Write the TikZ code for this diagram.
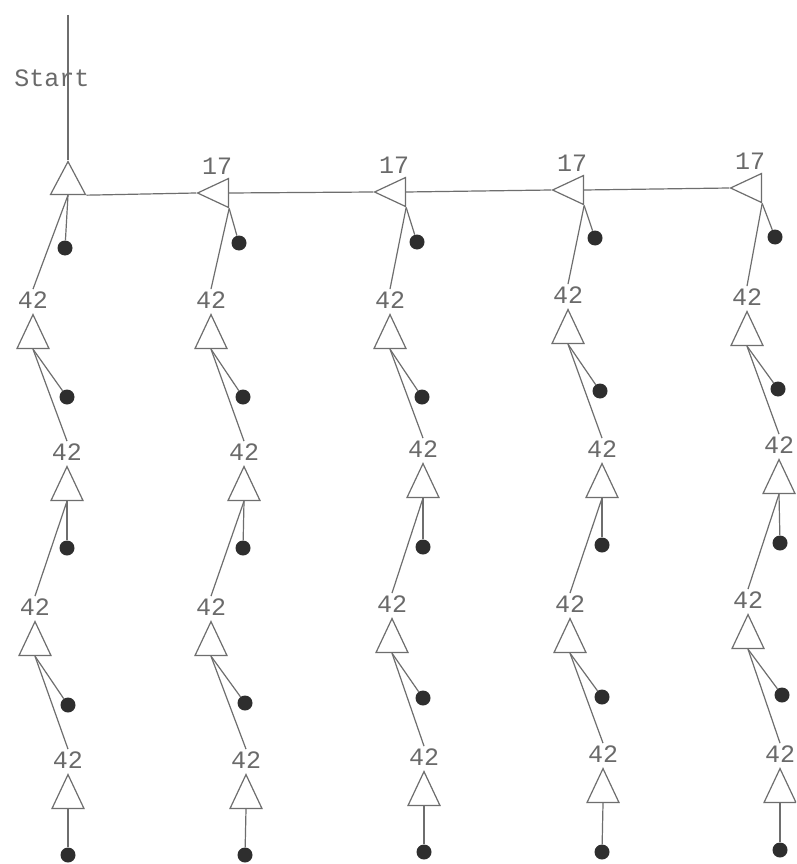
\documentclass[tikz,border=0pt]{standalone}
\usepackage{fontspec}
\newfontfamily\lblfont{Liberation Mono}
\usetikzlibrary{shapes.geometric}
\definecolor{ln}{HTML}{6E6E6E}
\definecolor{tx}{HTML}{6A6A6A}
\definecolor{dk}{HTML}{2E2E2E}
\tikzset{
  edge/.style={draw=ln, line width=1.2pt},
  tri/.style={isosceles triangle, draw=ln, line width=1.2pt, fill=white,
    shape border rotate=90, isosceles triangle stretches,
    minimum width=32pt, minimum height=34pt, inner sep=0pt, anchor=apex},
  ltri/.style={isosceles triangle, draw=ln, line width=1.2pt, fill=white,
    shape border rotate=180, isosceles triangle stretches,
    minimum width=29pt, minimum height=31pt, inner sep=0pt, anchor=apex},
  blob/.style={circle, fill=dk, inner sep=0pt, minimum size=15pt},
  lbl/.style={font=\lblfont\fontsize{25}{25}\selectfont, text=tx, inner sep=2pt, anchor=base}
}
\begin{document}
\begin{tikzpicture}[x=1pt,y=-1pt]
\clip (0,0) rectangle (796,864);
\fill[white] (0,0) rectangle (796,864);

% start
\coordinate (s0) at (68,15);
\node[lbl] (start) at (52,87) {Start};
\node[tri, minimum width=35pt, minimum height=33pt] (R) at (68,160) {};
\node[blob] (D00) at (65,248) {};

% top row (17)
\foreach \c/\x/\y/\dx/\dy in {1/196/193/239/243, 2/373/192/417/242, 3/551/190/595/238, 4/729/188/775/237}{
  \node[ltri] (H\c) at (\x,\y) {};
  \node[lbl] (K\c) at (\x+21,\y-19) {17};
  \node[blob] (D\c0) at (\dx,\dy) {};
}

% chains of 42
\foreach \c/\r/\x/\y/\dx/\dy in {
  0/1/33/313/67/397, 0/2/67/465/67/548, 0/3/35/620/68/705, 0/4/68/773/68/855,
  1/1/211/313/243/397, 1/2/244/465/243/548, 1/3/211/620/245/703, 1/4/246/773/245/855,
  2/1/390/313/422/397, 2/2/423/462/423/547, 2/3/392/617/423/698, 2/4/424/770/424/852,
  3/1/568/308/600/391, 3/2/602/462/602/545, 3/3/570/617/602/697, 3/4/603/767/602/852,
  4/1/747/310/778/389, 4/2/779/458/780/543, 4/3/748/613/782/695, 4/4/780/767/780/850}{
  \node[tri] (T\c\r) at (\x,\y) {};
  \node[lbl] (L\c\r) at (\x,\y-5) {42};
  \node[blob] (D\c\r) at (\dx,\dy) {};
}

% connectors
\draw[edge] (s0) -- (R.apex);
\draw[edge] (R.right corner) -- (H1.apex);
\draw[edge] (H1.lower side) -- (H2.apex);
\draw[edge] (H2.lower side) -- (H3.apex);
\draw[edge] (H3.lower side) -- (H4.apex);
\draw[edge] (R.lower side) -- (D00);
\draw[edge] (R.lower side) -- (L01.north);
\foreach \c in {1,2,3,4}{
  \draw[edge] (H\c.left corner) -- (D\c0);
  \draw[edge] (H\c.left corner) -- (L\c1.north);
}
\foreach \c in {0,1,2,3,4}{
  \foreach \r/\n in {1/2,2/3,3/4}{
    \draw[edge] (T\c\r.lower side) -- (D\c\r);
    \draw[edge] (T\c\r.lower side) -- (L\c\n.north);
  }
  \draw[edge] (T\c4.lower side) -- (D\c4);
}
\end{tikzpicture}
\end{document}
